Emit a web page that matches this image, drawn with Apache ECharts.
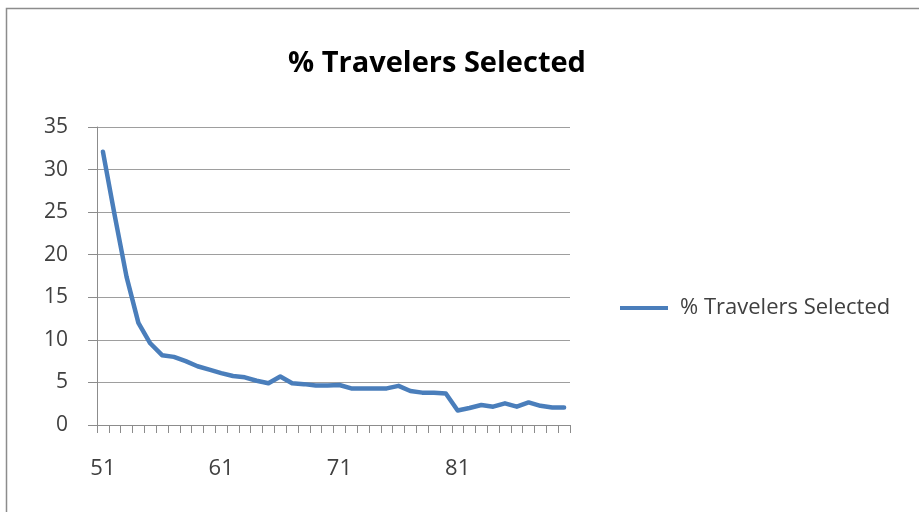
<!DOCTYPE html>
<html>
<head>
<meta charset="utf-8">
<script src="https://cdn.jsdelivr.net/npm/echarts@6/dist/echarts.min.js"></script>
<style>
  html, body { margin: 0; padding: 0; background: #fff; }
  #chart { width: 919px; height: 512px; }
</style>
</head>
<body>
<div id="chart"></div>
<script>
// Categories 51..90 along the x axis
const categories = [
  '51','52','53','54','55','56','57','58','59','60',
  '61','62','63','64','65','66','67','68','69','70',
  '71','72','73','74','75','76','77','78','79','80',
  '81','82','83','84','85','86','87','88','89','90'
];

// Percentage of travelers selected per category
const travelersSelected = [
  32.1, 24.6, 17.4, 12.0, 9.6, 8.2, 8.0, 7.5, 6.9, 6.5,
  6.1, 5.75, 5.6, 5.2, 4.9, 5.7, 4.9, 4.8, 4.65, 4.65,
  4.7, 4.3, 4.3, 4.3, 4.3, 4.6, 4.0, 3.8, 3.8, 3.7,
  1.7, 2.0, 2.35, 2.15, 2.55, 2.15, 2.65, 2.25, 2.05, 2.05
];

const seriesName = '% Travelers Selected';
const yTicks = { min: 0, max: 35, interval: 5 };

const fontFamily = '"Open Sans", "Noto Sans", sans-serif';
const chart = echarts.init(document.getElementById('chart'));

chart.setOption({
  animation: false,
  backgroundColor: '#ffffff',
  graphic: [{
    type: 'rect',
    shape: { x: 6.5, y: 8.5, width: 1000, height: 600 },
    style: { fill: 'none', stroke: '#8c8c8c', lineWidth: 1.5 },
    silent: true
  }],
  title: {
    text: seriesName,
    left: 432,
    textAlign: 'center',
    top: 44,
    textStyle: { fontFamily, fontWeight: 'bold', fontSize: 29, color: '#000' }
  },
  legend: {
    left: 615,
    top: 292,
    itemWidth: 48,
    itemHeight: 4,
    icon: 'rect',
    textStyle: { fontFamily, fontSize: 22, color: '#404040', padding: [0, 0, 0, 7] },
    data: [seriesName]
  },
  grid: { left: 97, right: 349, top: 127, bottom: 87, containLabel: false },
  xAxis: {
    type: 'category',
    data: categories,
    boundaryGap: true,
    axisLine: { lineStyle: { color: '#8c8c8c', width: 1 } },
    axisTick: { show: true, interval: 0, length: 8, lineStyle: { color: '#8c8c8c' } },
    axisLabel: {
      interval: 9,
      margin: 33,
      fontFamily,
      fontSize: 22,
      color: '#404040'
    },
    splitLine: { show: false }
  },
  yAxis: {
    type: 'value',
    min: yTicks.min,
    max: yTicks.max,
    interval: yTicks.interval,
    axisLine: { show: true, lineStyle: { color: '#8c8c8c', width: 1 } },
    axisTick: { show: true, length: 9, lineStyle: { color: '#8c8c8c' } },
    axisLabel: { margin: 29, fontFamily, fontSize: 21, color: '#404040' },
    splitLine: { show: true, lineStyle: { color: '#9e9e9e', width: 1 } }
  },
  series: [{
    name: seriesName,
    type: 'line',
    data: travelersSelected,
    symbol: 'none',
    smooth: false,
    lineStyle: { color: '#4a7ebb', width: 4.5, join: 'round', cap: 'round' },
    itemStyle: { color: '#4a7ebb' }
  }]
});
</script>
</body>
</html>
